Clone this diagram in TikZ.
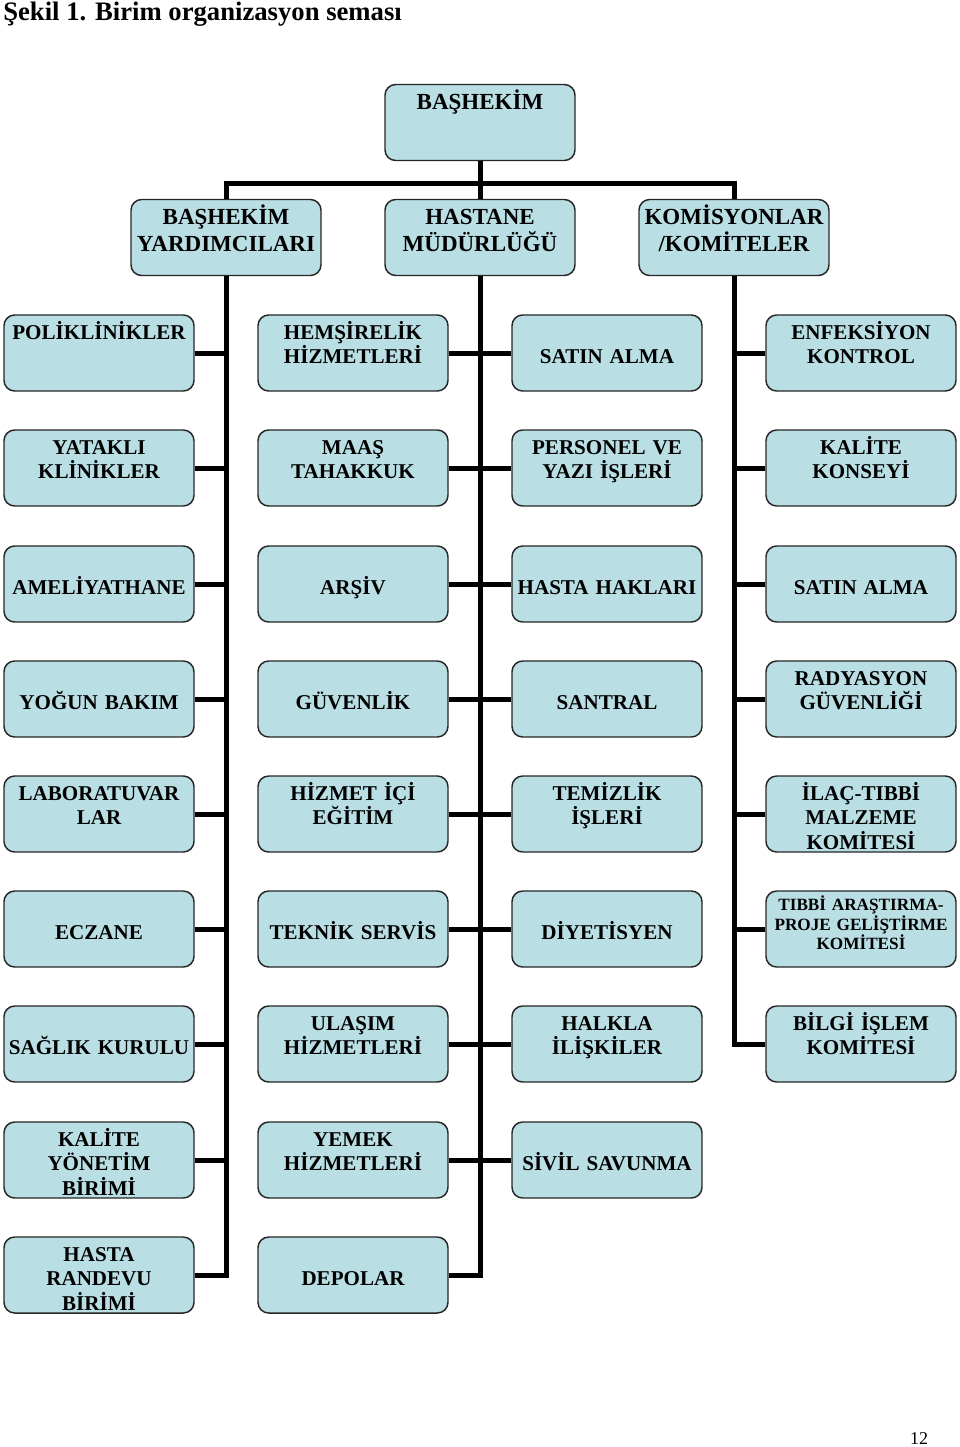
\documentclass[tikz,border=0pt]{standalone}
\usepackage{fontspec}
\setmainfont{Liberation Serif}
\usepackage{tikz}
\usetikzlibrary{calc}
\usepackage{xcolor}
\definecolor{boxblue}{RGB}{185,222,228}

\tikzset{
  unit/.style={draw=black!85, line width=1.1pt, fill=boxblue, rounded corners=8pt,
    inner sep=0pt, text width=142.5pt, align=center,
    font=\fontsize{15.8}{18.4}\selectfont\bfseries, text height=18pt, text depth=39pt},
  drop/.style={text height=36.4pt, text depth=20.6pt},
  head/.style={unit, font=\fontsize{17.25}{20.25}\selectfont\bfseries, text height=19pt, text depth=38pt},
  small/.style={font=\fontsize{12.9}{14.6}\selectfont\bfseries, text height=14.8pt, text depth=42.2pt},
  link/.style={line width=3.75pt}
}

\begin{document}
\begin{tikzpicture}[x=0.75pt,y=-0.75pt]
  \useasboundingbox (0,0) rectangle (960,1447);
  \node[anchor=base west, font=\fontsize{20}{24}\selectfont\bfseries, inner sep=0pt] (title) at (3,20.5) {Şekil 1. Birim organizasyon seması};
  \node[anchor=base, font=\fontsize{13.5}{16}\selectfont, inner sep=0pt] (page) at (919,1444) {12};

  % top levels
  \node[head] (bashekim) at (480,122.5) {BAŞHEKİM};
  \node[head] (yardimci) at (226,237.5) {BAŞHEKİM\\YARDIMCILARI};
  \node[head] (mudurluk) at (480,237.5) {HASTANE\\MÜDÜRLÜĞÜ};
  \node[head] (komisyon) at (734,237.5) {KOMİSYONLAR\\/KOMİTELER};

  % units
  \node[unit] (poliklinik) at (99,353) {POLİKLİNİKLER};
  \node[unit] (hemsire) at (353,353) {HEMŞİRELİK\\HİZMETLERİ};
  \node[unit,drop] (satinalma) at (607,353) {SATIN ALMA};
  \node[unit] (enfeksiyon) at (861,353) {ENFEKSİYON\\KONTROL};

  \node[unit] (yatakli) at (99,468) {YATAKLI\\KLİNİKLER};
  \node[unit] (maas) at (353,468) {MAAŞ\\TAHAKKUK};
  \node[unit] (personel) at (607,468) {PERSONEL VE\\YAZI İŞLERİ};
  \node[unit] (konsey) at (861,468) {KALİTE\\KONSEYİ};

  \node[unit,drop] (ameliyat) at (99,584) {AMELİYATHANE};
  \node[unit,drop] (arsiv) at (353,584) {ARŞİV};
  \node[unit,drop] (haklar) at (607,584) {HASTA HAKLARI};
  \node[unit,drop] (satinkom) at (861,584) {SATIN ALMA};

  \node[unit,drop] (yogun) at (99,699) {YOĞUN BAKIM};
  \node[unit,drop] (guvenlik) at (353,699) {GÜVENLİK};
  \node[unit,drop] (santral) at (607,699) {SANTRAL};
  \node[unit] (radyasyon) at (861,699) {RADYASYON\\GÜVENLİĞİ};

  \node[unit] (lab) at (99,814) {LABORATUVAR\\LAR};
  \node[unit] (egitim) at (353,814) {HİZMET İÇİ\\EĞİTİM};
  \node[unit] (temizlik) at (607,814) {TEMİZLİK\\İŞLERİ};
  \node[unit] (ilac) at (861,814) {İLAÇ-TIBBİ\\MALZEME\\KOMİTESİ};

  \node[unit,drop] (eczane) at (99,929) {ECZANE};
  \node[unit,drop] (teknik) at (353,929) {TEKNİK SERVİS};
  \node[unit,drop] (diyet) at (607,929) {DİYETİSYEN};
  \node[unit,small] (arastirma) at (861,929) {TIBBİ ARAŞTIRMA-\\PROJE GELİŞTİRME\\KOMİTESİ};

  \node[unit,drop] (saglik) at (99,1044) {SAĞLIK KURULU};
  \node[unit] (ulasim) at (353,1044) {ULAŞIM\\HİZMETLERİ};
  \node[unit] (halkla) at (607,1044) {HALKLA\\İLİŞKİLER};
  \node[unit] (bilgi) at (861,1044) {BİLGİ İŞLEM\\KOMİTESİ};

  \node[unit] (kaliteyon) at (99,1160) {KALİTE\\YÖNETİM\\BİRİMİ};
  \node[unit] (yemek) at (353,1160) {YEMEK\\HİZMETLERİ};
  \node[unit,drop] (sivil) at (607,1160) {SİVİL SAVUNMA};

  \node[unit] (randevu) at (99,1275) {HASTA\\RANDEVU\\BİRİMİ};
  \node[unit,drop] (depolar) at (353,1275) {DEPOLAR};

  % connectors
  \coordinate (bar) at (480,183);
  \draw[link] (bashekim) -- (mudurluk);
  \draw[link] (yardimci.north) -- (yardimci.north |- bar) -- (komisyon.north |- bar) -- (komisyon.north);

  \draw[link] (yardimci.south) |- (randevu.east)
    (poliklinik.east) -- (poliklinik.east -| yardimci.south)
    (yatakli.east) -- (yatakli.east -| yardimci.south)
    (ameliyat.east) -- (ameliyat.east -| yardimci.south)
    (yogun.east) -- (yogun.east -| yardimci.south)
    (lab.east) -- (lab.east -| yardimci.south)
    (eczane.east) -- (eczane.east -| yardimci.south)
    (saglik.east) -- (saglik.east -| yardimci.south)
    (kaliteyon.east) -- (kaliteyon.east -| yardimci.south);

  \draw[link] (mudurluk.south) |- (depolar.east)
    (hemsire.east) -- (satinalma.west)
    (maas.east) -- (personel.west)
    (arsiv.east) -- (haklar.west)
    (guvenlik.east) -- (santral.west)
    (egitim.east) -- (temizlik.west)
    (teknik.east) -- (diyet.west)
    (ulasim.east) -- (halkla.west)
    (yemek.east) -- (sivil.west);

  \draw[link] (komisyon.south) |- (bilgi.west)
    (enfeksiyon.west) -- (enfeksiyon.west -| komisyon.south)
    (konsey.west) -- (konsey.west -| komisyon.south)
    (satinkom.west) -- (satinkom.west -| komisyon.south)
    (radyasyon.west) -- (radyasyon.west -| komisyon.south)
    (ilac.west) -- (ilac.west -| komisyon.south)
    (arastirma.west) -- (arastirma.west -| komisyon.south);
\end{tikzpicture}
\end{document}
